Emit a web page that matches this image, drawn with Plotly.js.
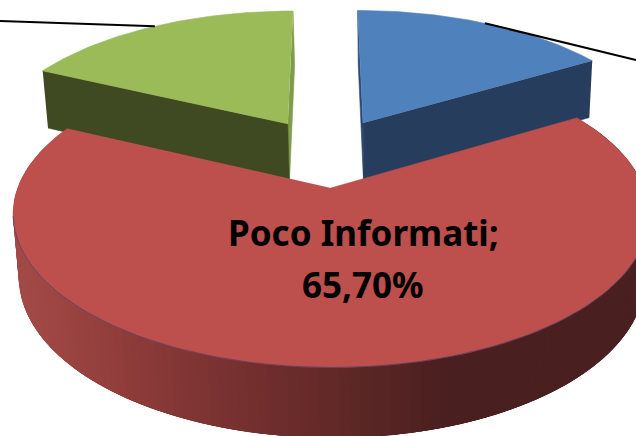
<!DOCTYPE html>
<html>
<head>
<meta charset="utf-8">
<script src="https://cdn.plot.ly/plotly-3.0.1.min.js"></script>
<style>html,body{margin:0;padding:0;background:#fff}#c{width:636px;height:436px}</style>
</head>
<body>
<div id="c"></div>
<script>
// Data (slices run clockwise from 12 o'clock); only the red slice's label is inside the crop
const categories = ["Slice A", "Poco Informati", "Slice C"];
const values = [16.4, 65.7, 17.9];
const topColors = ["#4F81BD", "#BD4F4C", "#9BBB59"];
const sideColors = ["#273D5D", "#7A3432", "#3F4A23"];
const edgeColors = ["#2C4A75", "#7A3432", "#7F9C4A"];

// 3D view of the pie
const VIEW = {p: 0.1657, A: 300, D: 2, Xv: 325, H: -670, Q: 822, explode: 0.2535};
const radiusX = [1.015, 1, 1.015];
const radiusY = [1.035, 1, 1.035];
function top3d(u, v) {
  const w = 1 - VIEW.p * v;
  return [VIEW.Xv + (VIEW.A * u + VIEW.D) / w, VIEW.H + VIEW.Q / w];
}
function lower(pt) { return [331 + 0.985 * (pt[0] - 330), 1.045 * pt[1] + 54]; }

const total = values.reduce((a, b) => a + b, 0);
let acc = 0;
const slices = values.map((val, i) => {
  const a0 = acc / total * 2 * Math.PI;
  acc += val;
  const a1 = acc / total * 2 * Math.PI;
  const m = (a0 + a1) / 2;
  const ou = VIEW.explode * Math.sin(m), ov = -VIEW.explode * Math.cos(m);
  const rim = f => top3d(ou + radiusX[i] * Math.sin(f), ov - radiusY[i] * Math.cos(f));
  return {i, a0, a1, m, rim, apex: top3d(ou, ov)};
});

function poly(pts, color, lw) {
  return {type: "scatter", mode: "lines", x: pts.map(p => p[0]), y: pts.map(p => p[1]),
    fill: "toself", fillcolor: color, line: {color: color, width: lw === undefined ? 0.6 : lw},
    hoverinfo: "skip", showlegend: false};
}
function arc(s, n) {
  const r = [];
  for (let k = 0; k <= n; k++) r.push(s.rim(s.a0 + (s.a1 - s.a0) * k / n));
  return r;
}
function mix(stops, x) {
  for (let k = 1; k < stops.length; k++) {
    if (x <= stops[k][0]) {
      const a = stops[k - 1], b = stops[k], t = Math.max(0, (x - a[0]) / (b[0] - a[0]));
      const c = [1, 2, 3].map(j => Math.round(a[j] + (b[j] - a[j]) * t));
      return "rgb(" + c.join(",") + ")";
    }
  }
  const l = stops[stops.length - 1];
  return "rgb(" + l[1] + "," + l[2] + "," + l[3] + ")";
}
const sideRamp = [[20,163,74,71],[130,142,60,58],[270,112,46,45],[400,84,36,35],[450,74,31,31],[640,74,31,31]];

const traces = [];
[slices[0], slices[2]].forEach(s => {
  // cut face that looks into the gap
  const f = s.i === 0 ? s.a0 : s.a1;
  const r = s.rim(f);
  traces.push(poly([r, lower(r), lower(s.apex), s.apex], edgeColors[s.i]));
  // long cut face towards the viewer
  const g = s.i === 0 ? s.a1 : s.a0;
  const q = s.rim(g);
  traces.push(poly([q, s.apex, lower(s.apex), lower(q)], sideColors[s.i]));
  traces.push(poly([s.apex].concat(arc(s, 50)), topColors[s.i]));
});

// red slice: shaded outer wall, each band overlapped by the next to hide seams, then top
const red = slices[1];
const redRim = arc(red, 150);
for (let k = 0; k < redRim.length - 1; k++) {
  const a = redRim[k], b = redRim[Math.min(k + 4, redRim.length - 1)];
  traces.push(poly([a, b, lower(b), lower(a)], mix(sideRamp, a[0]), 0));
}
traces.push(poly([red.apex].concat(redRim), topColors[1]));
// thin rim line along the front of the top face
const frontRim = redRim.filter(p => p[1] > 214);
traces.push({type: "scatter", mode: "lines", x: frontRim.map(p => p[0]), y: frontRim.map(p => p[1]),
  line: {color: "rgba(72,66,110,0.7)", width: 1}, hoverinfo: "skip", showlegend: false});

// leader lines running to labels outside the crop
[[slices[0], [636, 60]], [slices[2], [0, 21]]].forEach(([s, end]) => {
  const st = s.rim(s.m);
  traces.push({type: "scatter", mode: "lines", x: [st[0], end[0]], y: [st[1], end[1]],
    line: {color: "#000", width: 2}, hoverinfo: "skip", showlegend: false});
});

const labelLines = [categories[1] + ";", values[1].toFixed(2).replace(".", ",") + "%"];
const font = {family: "'Noto Sans', 'Open Sans', sans-serif", size: 35, color: "#000"};
const annotations = [
  {x: 363, y: 232, text: "<b>" + labelLines[0] + "</b>", showarrow: false, xref: "x", yref: "y", font: font, xanchor: "center", yanchor: "middle"},
  {x: 363, y: 284, text: "<b>" + labelLines[1] + "</b>", showarrow: false, xref: "x", yref: "y", font: font, xanchor: "center", yanchor: "middle"}
];

Plotly.newPlot("c", traces, {
  width: 636, height: 436, margin: {l: 0, r: 0, t: 0, b: 0}, showlegend: false,
  paper_bgcolor: "#fff", plot_bgcolor: "#fff",
  xaxis: {range: [0, 636], visible: false, fixedrange: true},
  yaxis: {range: [436, 0], visible: false, fixedrange: true},
  annotations: annotations
}, {displayModeBar: false, staticPlot: true});
</script>
</body>
</html>
